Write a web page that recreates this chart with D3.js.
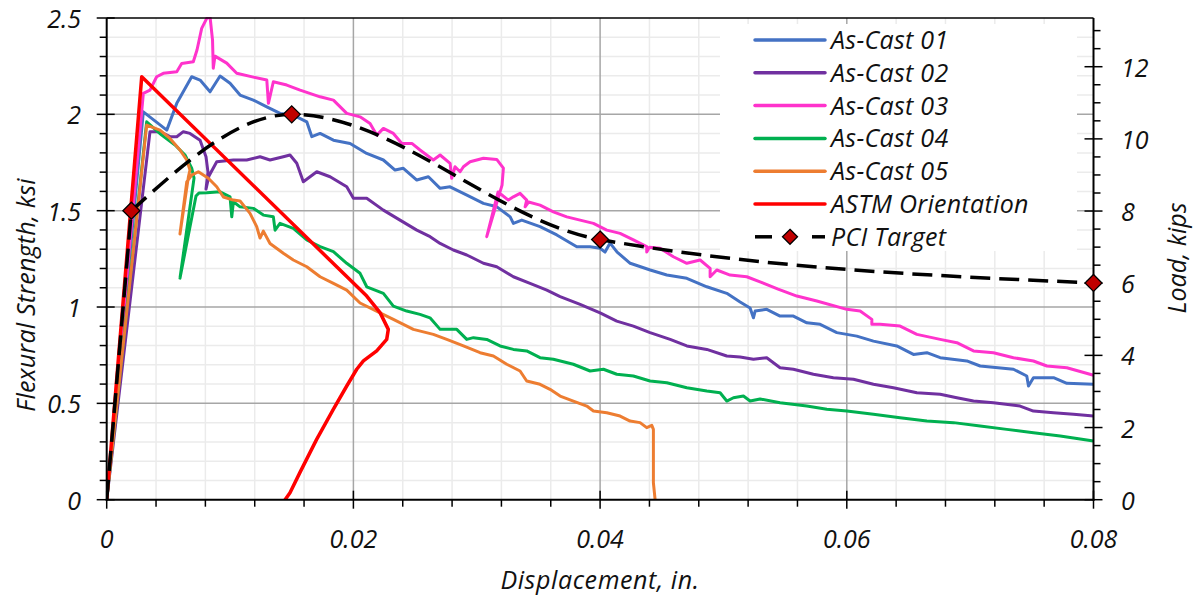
<!DOCTYPE html>
<html><head><meta charset="utf-8">
<script src="https://cdn.jsdelivr.net/npm/d3@7"></script>
<style>
html,body{margin:0;padding:0;background:#fff;}
text{font-family:"Open Sans",sans-serif;font-style:italic;fill:#111;}
</style></head>
<body>
<svg id="c" width="1193" height="596"></svg>
<script>
// ---- data (displacement in., flexural strength ksi) ----
const asCast01 = [[0,0],[0.00297,2.013],[0.00487,1.918],[0.00568,2.057],[0.00689,2.195],[0.00757,2.178],[0.00838,2.117],[0.00919,2.199],[0.01000,2.161],[0.01081,2.100],[0.01189,2.074],[0.01298,2.039],[0.01406,2.005],[0.01513,1.996],[0.01622,1.961],[0.01663,1.884],[0.01730,1.901],[0.01838,1.866],[0.01973,1.849],[0.02108,1.797],[0.02243,1.763],[0.02338,1.711],[0.02405,1.720],[0.02514,1.659],[0.02608,1.676],[0.02703,1.616],[0.02784,1.624],[0.02920,1.581],[0.03054,1.538],[0.03163,1.520],[0.03271,1.468],[0.03297,1.434],[0.03365,1.451],[0.03513,1.417],[0.03649,1.374],[0.03811,1.313],[0.03919,1.313],[0.04000,1.305],[0.04040,1.285],[0.04081,1.332],[0.04138,1.285],[0.04244,1.227],[0.04406,1.192],[0.04541,1.166],[0.04703,1.149],[0.04865,1.105],[0.05027,1.071],[0.05135,1.026],[0.05216,0.995],[0.05243,0.944],[0.05257,0.979],[0.05351,0.988],[0.05459,0.953],[0.05567,0.953],[0.05676,0.918],[0.05784,0.910],[0.05919,0.867],[0.06081,0.849],[0.06216,0.823],[0.06405,0.798],[0.06540,0.754],[0.06649,0.763],[0.06757,0.737],[0.06973,0.720],[0.07081,0.694],[0.07351,0.677],[0.07459,0.642],[0.07473,0.590],[0.07513,0.633],[0.07676,0.633],[0.07784,0.604],[0.08,0.599]];
const asCast02 = [[0,0],[0.00351,1.910],[0.00432,1.910],[0.00513,1.884],[0.00568,1.884],[0.00621,1.910],[0.00675,1.901],[0.00757,1.866],[0.00805,1.780],[0.00821,1.700],[0.00805,1.612],[0.00829,1.680],[0.00892,1.754],[0.01027,1.763],[0.01135,1.763],[0.01243,1.780],[0.01324,1.763],[0.01432,1.780],[0.01486,1.789],[0.01541,1.746],[0.01594,1.650],[0.01703,1.702],[0.01811,1.676],[0.01946,1.624],[0.02000,1.564],[0.02108,1.564],[0.02243,1.503],[0.02378,1.451],[0.02514,1.399],[0.02622,1.365],[0.02703,1.330],[0.02810,1.296],[0.02919,1.270],[0.03054,1.227],[0.03162,1.209],[0.03297,1.157],[0.03432,1.123],[0.03568,1.088],[0.03676,1.054],[0.03838,1.014],[0.04000,0.970],[0.04135,0.927],[0.04270,0.901],[0.04405,0.867],[0.04568,0.832],[0.04703,0.798],[0.04865,0.780],[0.05027,0.746],[0.05135,0.741],[0.05243,0.729],[0.05351,0.737],[0.05459,0.685],[0.05567,0.677],[0.05729,0.651],[0.05891,0.633],[0.06054,0.625],[0.06216,0.599],[0.06378,0.581],[0.06568,0.555],[0.06757,0.547],[0.06892,0.529],[0.07027,0.512],[0.07189,0.503],[0.07405,0.486],[0.07513,0.460],[0.07676,0.451],[0.07838,0.443],[0.08,0.434]];
const asCast03 = [[0,0],[0.00297,2.109],[0.00351,2.126],[0.00405,2.195],[0.00459,2.213],[0.00568,2.221],[0.00608,2.264],[0.00702,2.273],[0.00732,2.334],[0.00770,2.446],[0.00811,2.498],[0.00838,2.505],[0.00858,2.385],[0.00864,2.239],[0.00878,2.302],[0.00973,2.266],[0.01054,2.213],[0.01189,2.193],[0.01298,2.178],[0.01311,2.057],[0.01351,2.169],[0.01460,2.152],[0.01568,2.126],[0.01730,2.091],[0.01838,2.074],[0.01946,2.005],[0.02054,1.987],[0.02135,1.953],[0.02190,1.892],[0.02243,1.927],[0.02324,1.901],[0.02393,1.849],[0.02474,1.849],[0.02540,1.815],[0.02648,1.763],[0.02703,1.789],[0.02784,1.746],[0.02797,1.668],[0.02824,1.728],[0.02865,1.702],[0.02892,1.728],[0.02946,1.754],[0.03054,1.772],[0.03162,1.766],[0.03216,1.721],[0.03205,1.633],[0.03157,1.529],[0.03081,1.365],[0.03173,1.597],[0.03256,1.555],[0.03297,1.572],[0.03351,1.590],[0.03405,1.555],[0.03392,1.520],[0.03420,1.545],[0.03513,1.529],[0.03621,1.494],[0.03730,1.468],[0.03838,1.451],[0.03946,1.434],[0.04054,1.399],[0.04162,1.382],[0.04270,1.348],[0.04378,1.313],[0.04378,1.285],[0.04400,1.310],[0.04486,1.305],[0.04594,1.261],[0.04703,1.227],[0.04811,1.244],[0.04892,1.201],[0.04892,1.157],[0.04946,1.192],[0.05054,1.166],[0.05189,1.157],[0.05297,1.131],[0.05443,1.093],[0.05595,1.057],[0.05757,1.031],[0.06000,0.988],[0.06108,0.979],[0.06203,0.936],[0.06203,0.910],[0.06270,0.910],[0.06432,0.901],[0.06568,0.858],[0.06757,0.832],[0.06892,0.815],[0.07027,0.772],[0.07189,0.763],[0.07351,0.737],[0.07513,0.720],[0.07622,0.694],[0.07784,0.685],[0.08,0.646]];
const asCast04 = [[0,0],[0.00324,1.961],[0.00446,1.892],[0.00554,1.841],[0.00635,1.789],[0.00689,1.721],[0.00708,1.669],[0.00594,1.150],[0.00724,1.576],[0.00748,1.592],[0.00811,1.593],[0.00919,1.598],[0.01000,1.572],[0.01014,1.468],[0.01027,1.546],[0.01081,1.520],[0.01189,1.512],[0.01270,1.477],[0.01351,1.468],[0.01365,1.399],[0.01405,1.434],[0.01513,1.408],[0.01622,1.348],[0.01730,1.313],[0.01838,1.287],[0.01946,1.227],[0.02054,1.175],[0.02108,1.105],[0.02243,1.071],[0.02324,1.005],[0.02432,0.979],[0.02540,0.962],[0.02621,0.944],[0.02703,0.884],[0.02838,0.884],[0.02919,0.832],[0.02973,0.841],[0.03081,0.832],[0.03189,0.798],[0.03297,0.780],[0.03405,0.772],[0.03513,0.737],[0.03621,0.729],[0.03783,0.703],[0.03919,0.668],[0.04027,0.677],[0.04135,0.651],[0.04270,0.642],[0.04405,0.616],[0.04541,0.607],[0.04703,0.581],[0.04865,0.564],[0.04973,0.555],[0.05027,0.512],[0.05081,0.529],[0.05162,0.538],[0.05216,0.512],[0.05297,0.523],[0.05459,0.503],[0.05676,0.486],[0.05838,0.469],[0.06000,0.460],[0.06216,0.443],[0.06432,0.425],[0.06649,0.408],[0.06865,0.400],[0.07081,0.382],[0.07297,0.365],[0.07513,0.348],[0.07730,0.331],[0.08,0.305]];
const asCast05 = [[0,0],[0.00324,1.944],[0.00432,1.918],[0.00513,1.875],[0.00594,1.815],[0.00649,1.763],[0.00675,1.711],[0.00662,1.674],[0.00594,1.379],[0.00649,1.649],[0.00689,1.685],[0.00743,1.702],[0.00824,1.668],[0.00892,1.624],[0.00946,1.571],[0.01027,1.555],[0.01081,1.550],[0.01162,1.486],[0.01216,1.417],[0.01243,1.358],[0.01270,1.394],[0.01324,1.330],[0.01432,1.279],[0.01513,1.244],[0.01622,1.209],[0.01730,1.157],[0.01838,1.123],[0.01946,1.088],[0.02054,1.021],[0.02216,0.970],[0.02324,0.936],[0.02486,0.884],[0.02648,0.858],[0.02757,0.832],[0.02892,0.798],[0.03027,0.763],[0.03135,0.746],[0.03243,0.703],[0.03351,0.668],[0.03405,0.616],[0.03513,0.599],[0.03594,0.573],[0.03676,0.538],[0.03783,0.512],[0.03892,0.486],[0.03946,0.460],[0.04054,0.451],[0.04162,0.434],[0.04243,0.408],[0.04324,0.400],[0.04378,0.374],[0.04419,0.386],[0.04432,0.365],[0.04432,0.088],[0.04446,0]];
const astmOrientation = [[0,0],[0.00284,2.195],[0.02108,1.057],[0.02216,0.971],[0.02283,0.884],[0.02270,0.832],[0.02189,0.772],[0.02081,0.720],[0.02027,0.677],[0.01946,0.590],[0.01837,0.469],[0.01702,0.313],[0.01567,0.142],[0.01486,0.036],[0.01446,0]];
const pciTarget = [[0,0],[0.002,1.5],[0.015,2.0],[0.04,1.35],[0.08,1.125]];

const seriesNames = ["As-Cast 01","As-Cast 02","As-Cast 03","As-Cast 04","As-Cast 05","ASTM Orientation","PCI Target"];
const seriesColors = ["#4472C4","#7030A0","#FF33CC","#00B050","#ED7D31","#FF0000","#000000"];
const xTickLabels = ["0","0.02","0.04","0.06","0.08"];
const yTickLabels = ["0","0.5","1","1.5","2","2.5"];
const loadTickLabels = ["0","2","4","6","8","10","12"];

// ---- layout ----
const svg = d3.select("#c");
const L = 106.7, R = 1093.5, T = 18, B = 499.7;
const x = d3.scaleLinear().domain([0,0.08]).range([L,R]);
const y = d3.scaleLinear().domain([0,2.5]).range([B,T]);
const yLoad = d3.scaleLinear().domain([0,13.35]).range([B,T]);

const grid = svg.append("g");
d3.range(0,0.0801,0.004).forEach((v,i)=>{ if(i%5!==0) grid.append("line").attr("x1",x(v)).attr("x2",x(v)).attr("y1",T).attr("y2",B).attr("stroke","#ebebeb").attr("stroke-width",1.5);});
d3.range(0,2.501,0.1).forEach((v,i)=>{ if(i%5!==0) grid.append("line").attr("x1",L).attr("x2",R).attr("y1",y(v)).attr("y2",y(v)).attr("stroke","#ebebeb").attr("stroke-width",1.5);});
[0.02,0.04,0.06].forEach(v=>grid.append("line").attr("x1",x(v)).attr("x2",x(v)).attr("y1",T).attr("y2",B).attr("stroke","#a6a6a6").attr("stroke-width",1.5));
[0.5,1,1.5,2].forEach(v=>grid.append("line").attr("x1",L).attr("x2",R).attr("y1",y(v)).attr("y2",y(v)).attr("stroke","#a6a6a6").attr("stroke-width",1.5));

// legend background (covers grid)
svg.append("rect").attr("x",720).attr("y",24).attr("width",357).attr("height",227).attr("fill","#fff");

svg.append("clipPath").attr("id","clip").append("rect").attr("x",L).attr("y",T-1).attr("width",R-L).attr("height",B-T+1);
const plot = svg.append("g").attr("clip-path","url(#clip)");
const line = d3.line().x(d=>x(d[0])).y(d=>y(d[1]));
const data = [asCast01,asCast02,asCast03,asCast04,asCast05,astmOrientation];
data.forEach((s,i)=>{
  plot.append("path").attr("d",line(s)).attr("fill","none").attr("stroke",seriesColors[i])
    .attr("stroke-width",i===5?3.5:3).attr("stroke-linejoin","round").attr("stroke-linecap","round");
});
// PCI: straight elastic segment, then smoothed curve through target points
const smooth = d3.line().x(d=>x(d[0])).y(d=>y(d[1])).curve(d3.curveMonotoneX);
const pciPath = line(pciTarget.slice(0,2)) + smooth(pciTarget.slice(1)).replace(/^M[^CLZ]*/, "");
plot.append("path").attr("d",pciPath).attr("fill","none").attr("stroke","#000").attr("stroke-width",3.5).attr("stroke-dasharray","20,9");

// axes
const ax = svg.append("g").attr("stroke","#000");
ax.append("line").attr("x1",L).attr("x2",R).attr("y1",T).attr("y2",T).attr("stroke-width",1.5);
ax.append("line").attr("x1",L).attr("x2",L).attr("y1",T).attr("y2",B+1).attr("stroke-width",2);
ax.append("line").attr("x1",R).attr("x2",R).attr("y1",T).attr("y2",B+1).attr("stroke-width",2);
ax.append("line").attr("x1",L-1).attr("x2",R+1).attr("y1",B).attr("y2",B).attr("stroke-width",2);
d3.range(0,2.501,0.1).forEach((v,i)=>{ const major=i%5===0;
  ax.append("line").attr("x1",major?L-10:L-7).attr("x2",major?L+8:L).attr("y1",y(v)).attr("y2",y(v)).attr("stroke-width",1.5);});
d3.range(0,0.0801,0.004).forEach((v,i)=>{ const major=i%5===0;
  ax.append("line").attr("x1",x(v)).attr("x2",x(v)).attr("y1",major?B-9:B).attr("y2",major?B+9:B+7).attr("stroke-width",1.5);});
d3.range(0,13.01,0.5).forEach((v,i)=>{ const major=i%4===0;
  ax.append("line").attr("x1",major?R-9:R).attr("x2",major?R+9:R+7).attr("y1",yLoad(v)).attr("y2",yLoad(v)).attr("stroke-width",1.5);});

// tick labels
const fs = "25px";
yTickLabels.forEach(t=>svg.append("text").attr("x",81).attr("y",y(+t)).attr("text-anchor","end").attr("dominant-baseline","central").style("font-size",fs).text(t));
xTickLabels.forEach(t=>svg.append("text").attr("x",x(+t)).attr("y",538).attr("text-anchor","middle").attr("dominant-baseline","central").style("font-size",fs).text(t));
loadTickLabels.forEach(t=>svg.append("text").attr("x",1121).attr("y",yLoad(+t)).attr("text-anchor","start").attr("dominant-baseline","central").style("font-size",fs).text(t));

// axis titles
svg.append("text").attr("transform","translate(25,295) rotate(-90)").attr("text-anchor","middle").attr("dominant-baseline","central").style("font-size","25px").style("letter-spacing","0.2px").text("Flexural Strength, ksi");
svg.append("text").attr("x",600).attr("y",589).attr("text-anchor","middle").style("font-size","25px").style("letter-spacing","0.6px").text("Displacement, in.");
svg.append("text").attr("transform","translate(1176,258) rotate(-90)").attr("text-anchor","middle").attr("dominant-baseline","central").style("font-size","25px").text("Load, kips");

// PCI markers
pciTarget.slice(1).forEach(p=>{
  svg.append("path").attr("d","M0,-8.5L8.5,0L0,8.5L-8.5,0Z").attr("transform",`translate(${x(p[0])},${y(p[1])})`)
    .attr("fill","#C00000").attr("stroke","#000").attr("stroke-width",1.3);
});

// legend
const lg = svg.append("g");
seriesNames.forEach((n,i)=>{
  const yy = 40 + i*32.8;
  if(i<6){
    lg.append("line").attr("x1",755).attr("x2",825).attr("y1",yy).attr("y2",yy).attr("stroke",seriesColors[i]).attr("stroke-width",3.5).attr("stroke-linecap","round");
  } else {
    lg.append("line").attr("x1",755).attr("x2",772).attr("y1",yy).attr("y2",yy).attr("stroke","#000").attr("stroke-width",3.5);
    lg.append("line").attr("x1",812).attr("x2",825).attr("y1",yy).attr("y2",yy).attr("stroke","#000").attr("stroke-width",3.5);
    lg.append("path").attr("d","M0,-7.5L7.5,0L0,7.5L-7.5,0Z").attr("transform",`translate(790,${yy})`).attr("fill","#C00000").attr("stroke","#000").attr("stroke-width",1.3);
  }
  lg.append("text").attr("x",831).attr("y",yy+9).style("font-size",fs).style("letter-spacing","0.3px").text(n);
});
</script>
</body></html>
